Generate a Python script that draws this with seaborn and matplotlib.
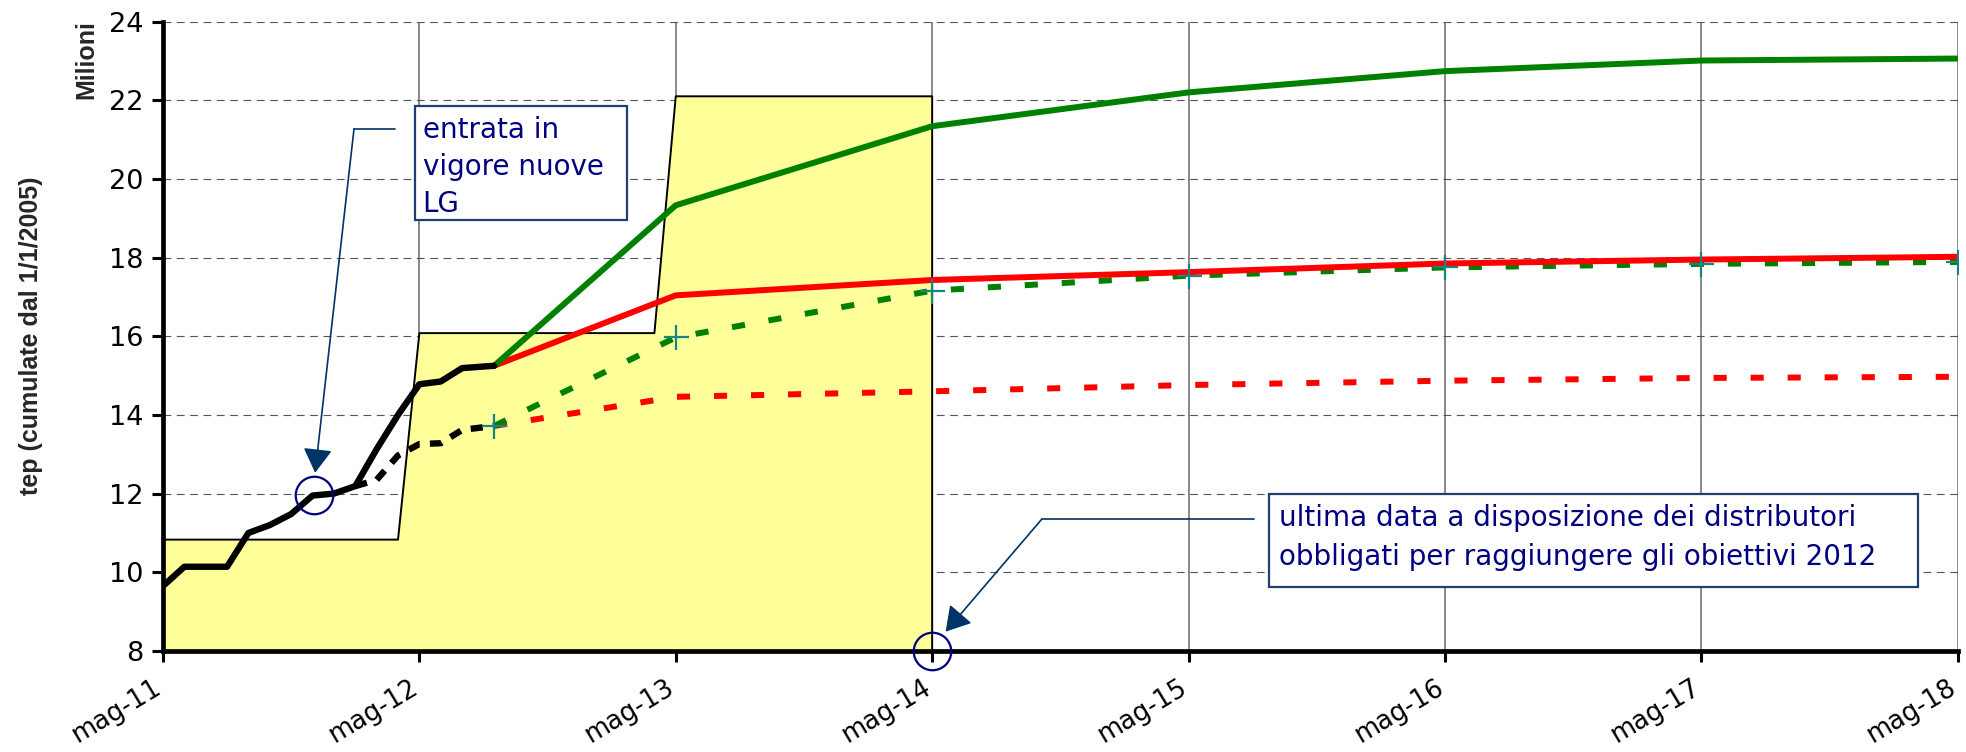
import matplotlib
matplotlib.use("Agg")
import matplotlib.pyplot as plt
import matplotlib.transforms as mtransforms
from matplotlib.patches import Rectangle
import seaborn as sns

# x axis: months counted from May 2011
tick_months = [0, 12, 24, 36, 48, 60, 72, 84]
tick_labels = ["mag-11", "mag-12", "mag-13", "mag-14", "mag-15", "mag-16", "mag-17", "mag-18"]

# obligation target (yellow area)
target_months = [0, 11, 12, 23, 24, 36, 36]
target_values = [10.83, 10.83, 16.08, 16.08, 22.1, 22.1, 8]

# historical certificates (black solid)
hist_months = [0, 1, 2, 3, 4, 5, 6, 7, 8, 9, 10, 11, 12, 13, 14, 15.5]
hist_values = [9.65, 10.14, 10.14, 10.14, 11.0, 11.2, 11.48, 11.95, 12.0, 12.19,
               13.13, 14.0, 14.78, 14.85, 15.19, 15.25]

# alternative historical series (black dashed)
alt_months = [9, 10, 11, 12, 13, 14, 15.5]
alt_values = [12.19, 12.35, 12.97, 13.26, 13.28, 13.62, 13.72]

# projections
proj_months = [15.5, 24, 36, 48, 60, 72, 84]
green_solid = [15.25, 19.33, 21.34, 22.2, 22.74, 23.01, 23.06]
red_solid = [15.25, 17.04, 17.43, 17.63, 17.85, 17.95, 18.02]
green_dotted = [13.72, 15.97, 17.16, 17.54, 17.75, 17.84, 17.89]
red_dotted = [13.72, 14.46, 14.6, 14.76, 14.87, 14.94, 14.97]

sns.set_theme(style="white")
plt.rcParams["font.family"] = ["DejaVu Sans"]

fig = plt.figure(figsize=(19.66, 7.52), dpi=100)
ax = fig.add_axes([0.0829, 0.1344, 0.9129, 0.8369])

# yellow target area
ax.fill_between(target_months, target_values, 0, color="#FFFF99", lw=0, zorder=1)
sns.lineplot(x=target_months, y=target_values, ax=ax, color="black", lw=1.4,
             sort=False, estimator=None, zorder=1.5)

dot = (0, (2.2, 4.0))
sns.lineplot(x=alt_months, y=alt_values, ax=ax, color="black", lw=4.6,
             linestyle=(0, (1.9, 1.6)), sort=False, estimator=None, zorder=3)
sns.lineplot(x=proj_months, y=red_dotted, ax=ax, color="#FF0000", lw=4.3,
             linestyle=dot, sort=False, estimator=None, zorder=3)
sns.lineplot(x=proj_months, y=green_dotted, ax=ax, color="#008000", lw=4.3,
             linestyle=dot, sort=False, estimator=None, zorder=3)
sns.lineplot(x=proj_months, y=red_solid, ax=ax, color="#FF0000", lw=4.3,
             sort=False, estimator=None, zorder=3.2)
sns.lineplot(x=proj_months, y=green_solid, ax=ax, color="#008000", lw=4.3,
             sort=False, estimator=None, zorder=3.2)
sns.lineplot(x=hist_months, y=hist_values, ax=ax, color="black", lw=4.6,
             sort=False, estimator=None, zorder=3.4)
ax.plot(proj_months, green_dotted, ls="none", marker="+", ms=18, mew=1.6,
        color="#138585", zorder=4)

ax.set_xlim(0, 84)
ax.set_ylim(8, 24)
ax.set_yticks(range(8, 25, 2))
ax.set_xticks(tick_months)
ax.set_xticklabels(tick_labels, rotation=31, ha="right", va="top",
                   rotation_mode="anchor", fontsize=18.5)
ax.tick_params(axis="y", labelsize=19.5, length=8, width=2.2, pad=6, direction="out",
               left=True, colors="black")
ax.tick_params(axis="x", length=8, width=2.2, pad=9, direction="out",
               bottom=True, colors="black")
for lab in ax.get_xticklabels():
    lab.set_transform(lab.get_transform() +
                      mtransforms.ScaledTranslation(-0.1, 0, fig.dpi_scale_trans))

ax.set_axisbelow(True)
ax.yaxis.grid(True, color="#555555", lw=0.8, linestyle=(0, (7, 5)))
ax.xaxis.grid(True, color="#808080", lw=1.3, linestyle="-")
for side in ["top", "right"]:
    ax.spines[side].set_visible(False)
for side in ["left", "bottom"]:
    ax.spines[side].set_color("black")
    ax.spines[side].set_linewidth(3.4)
    ax.spines[side].set_zorder(5)

fig.text(31 / 1966, 1 - 336 / 752, "tep (cumulate dal 1/1/2005)", rotation=90,
         ha="center", va="center", fontsize=18, fontweight="bold",
         family=["Liberation Sans", "DejaVu Sans"])
fig.text(86 / 1966, 1 - 60 / 752, "Milioni", rotation=90, ha="center", va="center",
         fontsize=18, fontweight="bold", family=["Liberation Sans", "DejaVu Sans"])

navy = "#000080"
lead = "#003366"

# annotation 1: entrata in vigore nuove LG
ax.plot([7.09], [11.97], marker="o", ms=27, mfc="none", mec=navy, mew=1.6,
        zorder=6, clip_on=False)
ax.plot([10.86, 8.94], [21.27, 21.27], color=lead, lw=1.2, zorder=6)
ax.annotate("", xy=(7.12, 12.53), xytext=(8.94, 21.27),
            arrowprops=dict(arrowstyle="-|>,head_length=0.75,head_width=0.45",
                            color=lead, lw=1.2, mutation_scale=20,
                            shrinkA=0, shrinkB=0), zorder=6)
ax.add_patch(Rectangle((11.8, 18.96), 9.9, 2.9, facecolor="white",
                       edgecolor="#1F3F6E", lw=1.6, zorder=7))
ax.text(12.15, 21.6, "entrata in\nvigore nuove\nLG", color=navy, fontsize=20,
        ha="left", va="top", linespacing=1.42, zorder=8)

# annotation 2: ultima data
ax.plot([36], [8.0], marker="o", ms=27, mfc="none", mec=navy, mew=1.6,
        zorder=6, clip_on=False)
ax.plot([51.08, 41.13], [11.35, 11.35], color=lead, lw=1.2, zorder=6)
ax.annotate("", xy=(36.63, 8.49), xytext=(41.13, 11.35),
            arrowprops=dict(arrowstyle="-|>,head_length=0.75,head_width=0.45",
                            color=lead, lw=1.2, mutation_scale=20,
                            shrinkA=0, shrinkB=0), zorder=6)
ax.add_patch(Rectangle((51.75, 9.62), 30.41, 2.38, facecolor="white",
                       edgecolor="#1F3F6E", lw=1.6, zorder=7))
ax.text(52.21, 11.74, "ultima data a disposizione dei distributori\n"
        "obbligati per raggiungere gli obiettivi 2012", color=navy, fontsize=20,
        ha="left", va="top", linespacing=1.5, zorder=8)

fig.savefig("out.png", dpi=100)
plt.close(fig)
